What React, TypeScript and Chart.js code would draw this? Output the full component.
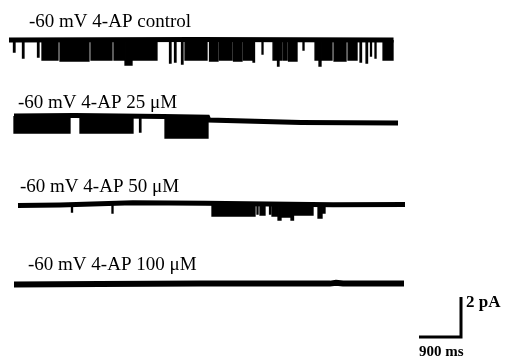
import { useEffect, useRef } from "react";
import { Chart, registerables } from "chart.js";

Chart.register(...registerables);

// Single-channel records at -60 mV with increasing 4-AP.
// Time in ms from the start of each sweep, current in pA relative to the
// closed level (openings are inward, so negative).

const traceLabels = [
  "-60 mV 4-AP control",
  "-60 mV 4-AP 25 \u03bcM",
  "-60 mV 4-AP 50 \u03bcM",
  "-60 mV 4-AP 100 \u03bcM",
];

// closed-level drift: [time ms, current pA]
const controlClosed: [number, number][] = [
  [0, 0],
  [4000, 0.02],
  [8240, 0],
];
const ap25Closed: [number, number][] = [
  [0, 0],
  [1300, 0.02],
  [3200, -0.03],
  [4150, -0.06],
  [4175, -0.2],
  [6150, -0.32],
  [8229, -0.35],
];
const ap50Closed: [number, number][] = [
  [0, -0.025],
  [900, 0],
  [2460, 0.11],
  [4010, 0.09],
  [6750, 0.01],
  [8293, 0.02],
];
const ap100Closed: [number, number][] = [
  [0, -0.02],
  [1840, 0],
  [3990, 0.02],
  [6770, 0.02],
  [6900, 0.06],
  [7050, 0.02],
  [8357, 0.02],
];

// openings and bursts: [start ms, end ms, open level pA]
const controlOpenings: [number, number, number][] = [
  [96, 129, -0.6],
  [289, 321, -0.9],
  [611, 643, -0.85],
  [707, 1050, -1.0],
  [1093, 1714, -1.05],
  [1757, 2207, -1.0],
  [2250, 2486, -1.0],
  [2486, 2636, -1.25],
  [2657, 3171, -1.0],
  [3440, 3472, -1.15],
  [3547, 3579, -1.1],
  [3697, 3729, -1.2],
  [3772, 4243, -1.0],
  [4297, 4479, -1.05],
  [4511, 4779, -1.0],
  [4811, 4993, -1.05],
  [5025, 5207, -1.0],
  [5229, 5261, -1.1],
  [5422, 5443, -0.7],
  [5658, 5754, -1.0],
  [5754, 5786, -1.3],
  [5786, 5840, -1.0],
  [5872, 5958, -1.0],
  [5990, 6172, -1.05],
  [6300, 6322, -0.5],
  [6558, 6643, -1.0],
  [6643, 6686, -1.3],
  [6686, 6922, -1.0],
  [6965, 7222, -1.05],
  [7265, 7458, -1.0],
  [7522, 7554, -1.1],
  [7651, 7683, -1.15],
  [7747, 7768, -0.8],
  [7843, 7865, -0.9],
  [8015, 8229, -1.0],
];
const ap25Openings: [number, number, number][] = [
  [0, 1200, -0.85],
  [1414, 2550, -0.85],
  [2690, 2720, -0.8],
  [3236, 4157, -1.1],
];
const ap50Openings: [number, number, number][] = [
  [1146, 1168, -0.35],
  [2014, 2036, -0.4],
  [4157, 5079, -0.55],
  [5122, 5143, -0.45],
  [5186, 5293, -0.5],
  [5390, 5411, -0.45],
  [5443, 5572, -0.55],
  [5572, 5636, -0.75],
  [5636, 5850, -0.6],
  [5850, 5904, -0.75],
  [5904, 6322, -0.5],
  [6429, 6515, -0.65],
  [6515, 6579, -0.4],
];
const ap100Openings: [number, number, number][] = [];

const closedLevels = [controlClosed, ap25Closed, ap50Closed, ap100Closed];
const openingLists = [controlOpenings, ap25Openings, ap50Openings, ap100Openings];

// calibration bar
const scaleTimeMs = 900;
const scaleCurrentPA = 2;

// page geometry
const W = 506;
const H = 357;
const MS_PER_PX = 900 / 42;
const PX_PER_PA = 20;

const rows = [
  { left: 9, closedY: 40, band: 5, labelX: 29, labelY: 27 },
  { left: 14, closedY: 116, band: 5, labelX: 18, labelY: 108 },
  { left: 18, closedY: 205, band: 5, labelX: 20, labelY: 192 },
  { left: 14, closedY: 284, band: 6, labelX: 28, labelY: 270 },
];
const scaleCorner = { x: 461, y: 337 };

const ink = "#000";

export default function App() {
  const canvasRef = useRef<HTMLCanvasElement | null>(null);

  useEffect(() => {
    const canvas = canvasRef.current;
    if (!canvas) return;

    const datasets: any[] = [];

    rows.forEach((row, i) => {
      const t0 = row.left * MS_PER_PX;
      const i0 = -row.closedY / PX_PER_PA;
      const tx = (t: number) => t0 + t;
      const iy = (v: number) => i0 + v;

      // open periods: filled from the closed level down to the open level
      const pts: { x: number; y: number | null }[] = [];
      openingLists[i].forEach(([a, b, lvl]) => {
        pts.push({ x: tx(a), y: iy(0) });
        pts.push({ x: tx(a), y: iy(lvl) });
        pts.push({ x: tx(b), y: iy(lvl) });
        pts.push({ x: tx(b), y: iy(0) });
        pts.push({ x: tx(b), y: null });
      });
      if (pts.length) {
        datasets.push({
          data: pts,
          borderColor: ink,
          backgroundColor: ink,
          borderWidth: 1.3,
          pointRadius: 0,
          tension: 0,
          spanGaps: false,
          fill: { value: iy(0) },
        });
      }

      // closed-level band
      datasets.push({
        data: closedLevels[i].map(([t, v]) => ({ x: tx(t), y: iy(v) })),
        borderColor: ink,
        borderWidth: row.band,
        borderCapStyle: "butt",
        pointRadius: 0,
        tension: 0,
        fill: false,
      });
    });

    // L-shaped calibration bar
    const cx = scaleCorner.x * MS_PER_PX;
    const cy = -scaleCorner.y / PX_PER_PA;
    datasets.push({
      data: [
        { x: cx - scaleTimeMs, y: cy },
        { x: cx, y: cy },
        { x: cx, y: cy + scaleCurrentPA },
      ],
      borderColor: ink,
      borderWidth: 3,
      borderCapStyle: "butt",
      borderJoinStyle: "miter",
      pointRadius: 0,
      tension: 0,
      fill: false,
    });

    const labelPlugin = {
      id: "traceLabels",
      afterDraw(chart: any) {
        const ctx = chart.ctx as CanvasRenderingContext2D;
        ctx.save();
        ctx.fillStyle = ink;
        ctx.textBaseline = "alphabetic";
        ctx.textAlign = "left";
        ctx.font = '19px "Liberation Serif"';
        rows.forEach((row, i) => ctx.fillText(traceLabels[i], row.labelX, row.labelY));
        ctx.font = 'bold 17px "Liberation Serif"';
        ctx.fillText(`${scaleCurrentPA} pA`, 466, 307);
        ctx.font = 'bold 15px "Liberation Serif"';
        ctx.fillText(`${scaleTimeMs} ms`, 419, 356);
        ctx.restore();
      },
    };

    const chart = new Chart(canvas, {
      type: "line",
      data: { datasets },
      options: {
        animation: false,
        responsive: false,
        maintainAspectRatio: false,
        devicePixelRatio: 1,
        layout: { padding: 0 },
        events: [],
        plugins: {
          legend: { display: false },
          tooltip: { enabled: false },
          title: { display: false },
        },
        scales: {
          x: { type: "linear", display: false, min: 0, max: W * MS_PER_PX },
          y: { type: "linear", display: false, min: -H / PX_PER_PA, max: 0 },
        },
      },
      plugins: [labelPlugin],
    });

    return () => chart.destroy();
  }, []);

  return (
    <div style={{ position: "absolute", left: 0, top: 0, width: W, height: H, background: "#fff" }}>
      <canvas ref={canvasRef} width={W} height={H} style={{ display: "block", width: W, height: H }} />
    </div>
  );
}
